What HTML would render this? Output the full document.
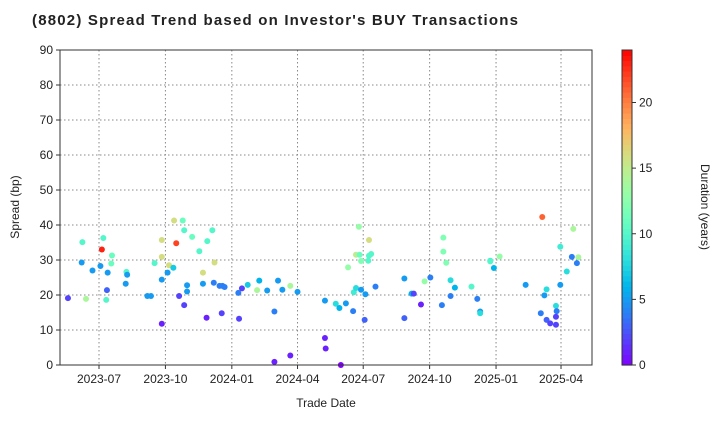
<!DOCTYPE html>
<html><head><meta charset="utf-8"><style>
body{margin:0;background:#fff;font-family:"Liberation Sans",Arial,sans-serif}
svg text{font-family:"Liberation Sans",Arial,sans-serif}
</style></head><body>
<svg id="chart" width="720" height="420" xmlns="http://www.w3.org/2000/svg">
<text x="32" y="25" font-size="15" font-weight="bold" fill="#222" textLength="486" lengthAdjust="spacing">(8802)   Spread Trend based on Investor's BUY Transactions</text>
<g id="grid"></g><g id="pts"></g><g id="axes"></g><g id="cbar"></g>
<text x="326" y="407" font-size="12" text-anchor="middle" fill="#222">Trade Date</text>
<text transform="translate(19,207) rotate(-90)" font-size="12" text-anchor="middle" fill="#222">Spread (bp)</text>
<text transform="translate(701,207) rotate(90)" font-size="12" text-anchor="middle" fill="#222">Duration (years)</text>
</svg>
<script>
// days since 2023-07-01
const days=[-43,-23,-18,-24,-9,2,4,6,11,10,12,18,17,38,39,37,67,72,77,87,87,87,87,97,104,107,103,95,111,116,118,118,122,122,129,139,144,144,149,150,157,160,159,167,171,174,170,194,193,198,206,222,219,233,243,243,248,254,265,265,275,313,313,314,328,333,335,342,352,345,353,356,360,356,361,363,363,369,368,374,374,377,373,383,423,423,433,436,446,451,459,475,477,477,481,487,487,493,516,524,528,528,542,542,547,555,591,614,617,620,612,620,625,633,633,634,633,639,639,648,655,657,662,664];
const spread=[19.1,35.1,18.9,29.3,27,28.3,33,36.3,21.4,18.6,26.4,31.3,29,26.6,25.8,23.2,19.7,19.7,29.1,35.7,30.9,24.4,11.8,28.5,41.3,34.8,27.8,26.4,19.7,41.3,38.5,17.1,22.8,21,36.6,32.5,26.4,23.2,13.5,35.4,38.5,29.3,23.5,22.6,22.6,22.3,14.8,13.2,20.6,21.9,22.9,24.1,21.4,21.3,15.3,0.9,24.1,21.5,22.6,2.7,20.9,18.4,7.7,4.7,17.5,16.3,0,17.6,15.4,27.9,20.8,22,39.5,31.5,31.5,29.7,21.5,20.2,12.9,31.2,35.7,31.7,29.8,22.4,13.4,24.7,20.4,20.4,17.3,23.9,25,17.1,36.4,32.4,29.2,19.7,24.2,22.1,22.4,18.9,15.3,14.8,29.8,29.6,27.7,31,22.9,42.3,19.9,21.6,14.8,12.9,11.9,11.5,16.9,15.4,13.8,33.8,22.9,26.7,30.9,38.9,29.1,30.8];
const duration=[2,10,14,5,5,5,23,10,3,10,5,11,11,10,5,5,5,5,10,16,16,5,1,16,16,22,7,5,2,11,10,2,5,5,11,10,16,5,1,10,10,16,4,4,4,4,2,2,4,2,7,6,14,5,4,1,5,5,14,1,5,5,1,1,8,6,0,5,4,13,9,8,13,15,11,12,5,5,3,10,16,10,10,4,3,5,6,2,1,13,4,4,12,12,12,4,8,6,10,4,5,8,9,10,6,13,5,21,5,8,4,3,2,2,8,4,2,9,5,8,4,14,4,14];
const yTicks=[0,10,20,30,40,50,60,70,80,90];
const xTickDays=[0,92,184,275,366,458,550,640];
const xTickLabels=["2023-07","2023-10","2024-01","2024-04","2024-07","2024-10","2025-01","2025-04"];
const cTicks=[0,5,10,15,20];
const L=60,R=592,T=50,B=365,YMAX=90,CMAX=24;
const xs=d=>99+d*0.7219, ys=v=>B-(v/YMAX)*(B-T);
function rainbow(t){t=Math.max(0,Math.min(1,t));const r=Math.min(1,Math.abs(2*t-0.5)),g=Math.sin(Math.PI*t),b=Math.cos(Math.PI*t/2);
 return `rgb(${Math.round(r*255)},${Math.round(g*255)},${Math.round(b*255)})`;}
const NS="http://www.w3.org/2000/svg";
function mk(tag,attrs,parent){const e=document.createElementNS(NS,tag);for(const k in attrs)e.setAttribute(k,attrs[k]);parent.appendChild(e);return e;}
const grid=document.getElementById('grid'),axes=document.getElementById('axes'),pts=document.getElementById('pts'),cbar=document.getElementById('cbar');
yTicks.forEach(v=>{const y=ys(v);
 const g=mk('line',{x1:L,x2:R,y1:y,y2:y,stroke:'#888','stroke-dasharray':'1.5,2.5','stroke-width':1},grid);
 
 
 const tk=mk('line',{x1:L-4,x2:L,y1:y,y2:y,stroke:'#333'},axes);
 
 
 const t=mk('text',{x:L-7,y:y+4,'font-size':12,'text-anchor':'end',fill:'#222'},axes);t.textContent=v;
 
 });
xTickDays.forEach((d,i)=>{const x=xs(d);
 const g=mk('line',{x1:x,x2:x,y1:T,y2:B,stroke:'#888','stroke-dasharray':'1.5,2.5','stroke-width':1},grid);
 
 
 const tk=mk('line',{x1:x,x2:x,y1:B,y2:B+4,stroke:'#333'},axes);
 
 
 const t=mk('text',{x:x,y:B+18,'font-size':12,'text-anchor':'middle',fill:'#222'},axes);t.textContent=xTickLabels[i];
 
 });
const frame=mk('rect',{x:L,y:T,width:R-L,height:B-T,fill:'none',stroke:'#333','stroke-width':1},axes);


days.forEach((d,i)=>{const c=mk('circle',{cx:xs(d),cy:ys(spread[i]),r:3,fill:rainbow(duration[i]/CMAX)},pts);
 
 });
const CX=622,CW=10;const N=60;
for(let i=0;i<N;i++){const y0=B-(i+1)*(B-T)/N;
 const r=mk('rect',{x:CX,y:y0,width:CW,height:(B-T)/N+0.6,fill:rainbow((i+0.5)/N)},cbar);
 
 }
const cf=mk('rect',{x:CX,y:T,width:CW,height:B-T,fill:'none',stroke:'#333'},cbar);


cTicks.forEach(v=>{const y=B-(v/CMAX)*(B-T);
 const tk=mk('line',{x1:CX+CW,x2:CX+CW+4,y1:y,y2:y,stroke:'#333'},cbar);
 
 
 const t=mk('text',{x:CX+CW+7,y:y+4,'font-size':12,fill:'#222'},cbar);t.textContent=v;
 
 });
</script>
</body></html>
